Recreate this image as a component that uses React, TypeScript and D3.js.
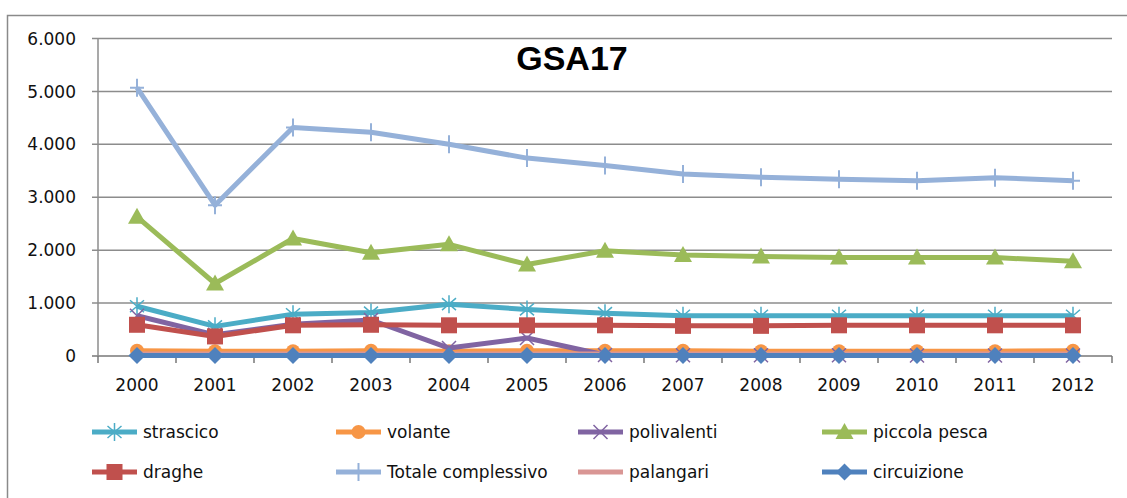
import React from 'react';
import * as d3 from 'd3';

// data
const years = ['2000', '2001', '2002', '2003', '2004', '2005', '2006', '2007', '2008', '2009', '2010', '2011', '2012'];
const strascico = [940, 560, 790, 820, 980, 880, 810, 760, 760, 760, 760, 760, 760];
const volante = [100, 90, 90, 100, 90, 100, 100, 100, 90, 90, 90, 90, 100];
const polivalenti = [760, 400, 600, 680, 150, 340, 20, 15, 15, 15, 10, 10, 10];
const piccolaPesca = [2630, 1370, 2220, 1950, 2110, 1730, 1990, 1910, 1880, 1860, 1860, 1860, 1790];
const draghe = [590, 370, 580, 590, 580, 580, 580, 570, 570, 580, 580, 580, 580];
const totale = [5070, 2850, 4320, 4230, 4000, 3740, 3600, 3440, 3380, 3340, 3310, 3370, 3310];
const palangari = [40, 40, 40, 40, 40, 40, 40, 40, 40, 40, 40, 40, 40];
const circuizione = [10, 10, 10, 10, 10, 10, 10, 10, 10, 10, 10, 10, 10];
const yTicks = [0, 1000, 2000, 3000, 4000, 5000, 6000];

const series = [
  { name: 'strascico', values: strascico, color: '#4BACC6', marker: 'star' },
  { name: 'volante', values: volante, color: '#F79646', marker: 'circle' },
  { name: 'polivalenti', values: polivalenti, color: '#8064A2', marker: 'x' },
  { name: 'piccola pesca', values: piccolaPesca, color: '#9BBB59', marker: 'triangle' },
  { name: 'draghe', values: draghe, color: '#C0504D', marker: 'square' },
  { name: 'Totale complessivo', values: totale, color: '#95B1D9', marker: 'plus' },
  { name: 'palangari', values: palangari, color: '#D99694', marker: 'none' },
  { name: 'circuizione', values: circuizione, color: '#4F81BD', marker: 'diamond' },
];

const FONT = '"DejaVu Sans", sans-serif';

function Marker({ type, x, y, color }) {
  switch (type) {
    case 'circle':
      return <circle cx={x} cy={y} r={7} fill={color} />;
    case 'square':
      return <rect x={x - 8} y={y - 8} width={16} height={16} fill={color} />;
    case 'diamond':
      return <path d={`M${x},${y - 8.5}L${x + 8.5},${y}L${x},${y + 8.5}L${x - 8.5},${y}Z`} fill={color} />;
    case 'triangle':
      return <path d={`M${x},${y - 9}L${x + 9},${y + 7}L${x - 9},${y + 7}Z`} fill={color} />;
    case 'plus':
      return (
        <path d={`M${x - 7},${y}H${x + 7}M${x},${y - 9}V${y + 9}`} stroke={color} strokeWidth={2} fill="none" />
      );
    case 'x':
      return (
        <path d={`M${x - 7},${y - 7}L${x + 7},${y + 7}M${x + 7},${y - 7}L${x - 7},${y + 7}`} stroke={color} strokeWidth={1.5} fill="none" />
      );
    case 'star':
      return (
        <path
          d={`M${x - 7},${y - 6}L${x + 7},${y + 6}M${x + 7},${y - 6}L${x - 7},${y + 6}M${x},${y - 9}V${y + 9}`}
          stroke={color}
          strokeWidth={1.5}
          fill="none"
        />
      );
    default:
      return null;
  }
}

export default function App() {
  const margin = { left: 98, right: 1112, top: 38.5, bottom: 356 };
  const xScale = d3.scaleBand().domain(years).range([margin.left, margin.right]);
  const yScale = d3.scaleLinear().domain([0, 6000]).range([margin.bottom, margin.top]);
  const cx = (d: string) => xScale(d) + xScale.bandwidth() / 2;
  const line = d3
    .line<number>()
    .x((_, i) => cx(years[i]))
    .y((d) => yScale(d));

  const legendCols = [92, 336, 578, 822];
  const legendRows = [432, 472];

  return (
    <svg width={1127} height={498} style={{ position: 'absolute', left: 0, top: 0, background: '#fff' }}>
      <rect x={7.5} y={15.5} width={1200} height={600} fill="#fff" stroke="#8a8a8a" strokeWidth={1.5} />
      {/* grid + y axis labels */}
      {yTicks.map((t) => (
        <g key={t}>
          <line x1={margin.left - 6} x2={margin.right} y1={yScale(t)} y2={yScale(t)} stroke={t === 0 ? '#777' : '#8c8c8c'} strokeWidth={1.5} />
          <text x={76} y={yScale(t)} dy="0.36em" textAnchor="end" fontFamily={FONT} fontSize={17} fill="#111">
            {d3.format(',')(t).replace(/,/g, '.')}
          </text>
        </g>
      ))}
      <line x1={margin.left} x2={margin.left} y1={margin.top} y2={margin.bottom} stroke="#8c8c8c" strokeWidth={1.5} />
      {/* x ticks */}
      {years.map((y) => (
        <line key={'t' + y} x1={xScale(y) + xScale.bandwidth()} x2={xScale(y) + xScale.bandwidth()} y1={margin.bottom} y2={margin.bottom + 7} stroke="#777" strokeWidth={1.5} />
      ))}
      <line x1={margin.left} x2={margin.left} y1={margin.bottom} y2={margin.bottom + 7} stroke="#777" strokeWidth={1.5} />
      {years.map((y) => (
        <text key={'l' + y} x={cx(y)} y={391} textAnchor="middle" fontFamily={FONT} fontSize={17} fill="#111">
          {y}
        </text>
      ))}
      {/* series */}
      {series.map((s) => (
        <g key={s.name}>
          <path d={line(s.values)} fill="none" stroke={s.color} strokeWidth={5} strokeLinejoin="round" />
          {s.values.map((v, i) => (
            <Marker key={i} type={s.marker} x={cx(years[i])} y={yScale(v)} color={s.color} />
          ))}
        </g>
      ))}
      {/* title */}
      <text x={572} y={70} textAnchor="middle" fontFamily='"Liberation Sans", sans-serif' fontWeight="bold" fontSize={34} fill="#000">
        GSA17
      </text>
      {/* legend */}
      {series.map((s, i) => {
        const lx = legendCols[i % 4];
        const ly = legendRows[Math.floor(i / 4)];
        return (
          <g key={'lg' + s.name}>
            <line x1={lx} x2={lx + 45} y1={ly} y2={ly} stroke={s.color} strokeWidth={5} />
            <Marker type={s.marker} x={lx + 22.5} y={ly} color={s.color} />
            <text x={lx + 51} y={ly} dy="0.36em" fontFamily={FONT} fontSize={17} fill="#111">
              {s.name}
            </text>
          </g>
        );
      })}
    </svg>
  );
}
